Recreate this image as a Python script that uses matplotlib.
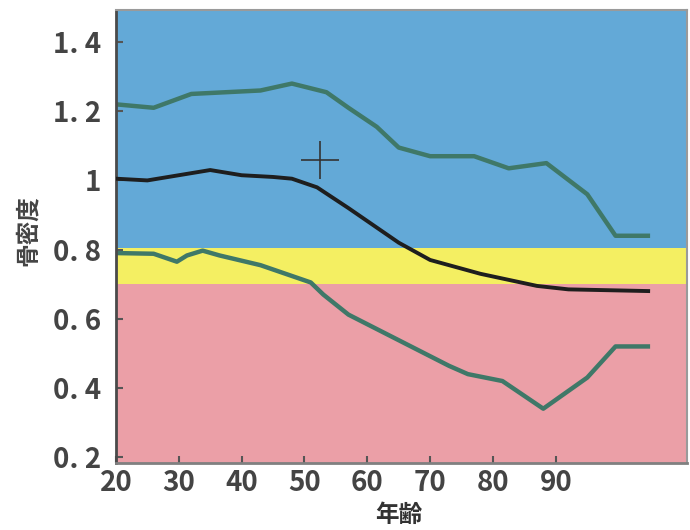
import matplotlib.pyplot as plt

plt.rcParams['font.family'] = ['Noto Sans CJK JP', 'DejaVu Sans']

# bone density bands
band_edges = [0.18, 0.70, 0.805, 1.50]
band_colors = ['#eb9fa7', '#f4ef62', '#63a9d7']

# upper line (+2SD)
upper_age = [20, 26, 32, 43, 48, 53.5, 57, 61.5, 65, 70, 77, 82.5, 88.5, 95, 99.5, 105]
upper_bmd = [1.22, 1.21, 1.25, 1.26, 1.28, 1.255, 1.21, 1.155, 1.095, 1.07, 1.07,
             1.035, 1.05, 0.96, 0.84, 0.84]

# mean line
mean_age = [20, 25, 30, 35, 40, 45, 48, 52, 57, 61, 65, 70, 78, 87, 92, 105]
mean_bmd = [1.005, 1.0, 1.015, 1.03, 1.015, 1.01, 1.005, 0.98, 0.92, 0.87, 0.82,
            0.77, 0.73, 0.695, 0.685, 0.68]

# lower line (-2SD)
lower_age = [20, 26, 29.7, 31.3, 33.8, 36.5, 43, 51, 53, 57, 65, 73, 76, 81.5,
             88, 95, 99.5, 105]
lower_bmd = [0.79, 0.788, 0.765, 0.783, 0.797, 0.783, 0.755, 0.705, 0.67, 0.612,
             0.538, 0.464, 0.44, 0.42, 0.34, 0.43, 0.52, 0.52]

# measured point
point_age = [52.5]
point_bmd = [1.06]

x_ticks = [20, 30, 40, 50, 60, 70, 80, 90]
y_ticks = [0.2, 0.4, 0.6, 0.8, 1.0, 1.2, 1.4]
y_tick_labels = ['0. 2', '0. 4', '0. 6', '0. 8', '1', '1. 2', '1. 4']

fig = plt.figure(figsize=(6.9, 5.3), dpi=100)
ax = fig.add_axes([0.168, 0.1264, 0.827, 0.8546])

for lo, hi, c in zip(band_edges[:-1], band_edges[1:], band_colors):
    ax.axhspan(lo, hi, color=c, lw=0, zorder=0)

ax.plot(upper_age, upper_bmd, color='#3f7868', lw=3.2, solid_capstyle='butt', zorder=2)
ax.plot(lower_age, lower_bmd, color='#3f7868', lw=3.2, solid_capstyle='butt', zorder=2)
ax.plot(mean_age, mean_bmd, color='#1e1e1e', lw=2.8, solid_capstyle='butt', zorder=3)
ax.plot(point_age, point_bmd, marker='+', color='#333333', markersize=27,
        markeredgewidth=1.2, ls='none', zorder=4)

ax.set_xlim(20, 110.8)
ax.set_ylim(0.183, 1.4925)
ax.set_xticks(x_ticks)
ax.set_yticks(y_ticks)
ax.set_yticklabels(y_tick_labels)
ax.tick_params(axis='both', direction='in', length=5, width=1.5, color='#555555',
               labelsize=20, labelcolor='#444444')
ax.tick_params(axis='y', pad=11)
ax.tick_params(axis='x', pad=4)
for lbl in ax.get_xticklabels() + ax.get_yticklabels():
    lbl.set_fontweight('bold')

for side in ['top', 'right']:
    ax.spines[side].set_color('#9a9a9a')
    ax.spines[side].set_linewidth(1.5)
ax.spines['left'].set_color('#4a4a4a')
ax.spines['left'].set_linewidth(2)
ax.spines['bottom'].set_color('#808080')
ax.spines['bottom'].set_linewidth(2)

fig.text(0.04, 0.565, '骨密度', rotation=90, ha='center', va='center',
         fontsize=17, fontweight='bold', color='#444444')
fig.text(0.578, 0.028, '年齢', ha='center', va='center',
         fontsize=17, fontweight='bold', color='#333333')

fig.savefig('out.png', dpi=100)
